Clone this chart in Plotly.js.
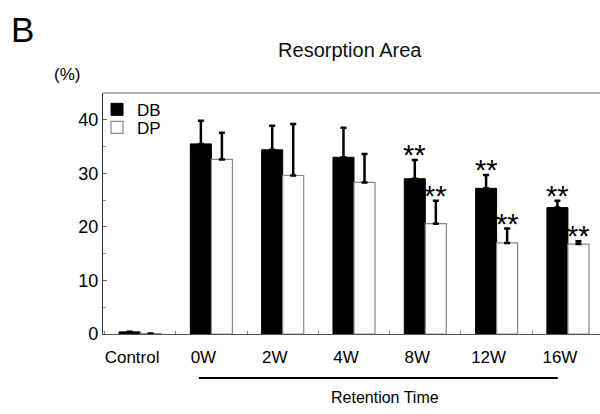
<!DOCTYPE html>
<html><head><meta charset="utf-8">
<script src="https://cdn.plot.ly/plotly-3.0.1.min.js"></script>
<style>html,body{margin:0;padding:0;background:#fff}#chart{width:600px;height:414px}</style>
</head><body><div id="chart"></div>
<script>
var categories = ["Control","0W","2W","4W","8W","12W","16W"];
var dbValues = [0.4, 35.5, 34.4, 33.0, 29.0, 27.2, 23.6];
var dbErr = [0, 4.3, 4.5, 5.5, 3.5, 2.5, 1.3];
var dpValues = [0.1, 32.6, 29.6, 28.3, 20.6, 17.0, 16.8];
var dpErr = [0, 5.0, 9.6, 5.3, 4.3, 2.7, 0.5];
var dbSig = ["", "", "", "", "**", "**", "**"];
var dpSig = ["", "", "", "", "**", "**", "**"];

var F = "Arial, 'Liberation Sans', Helvetica, sans-serif";
var traces = [
  {type:"bar", name:"DB", legend:"legend", x:categories, y:dbValues,
   marker:{color:"#000", line:{color:"#000", width:1}},
   error_y:{type:"data", array:dbErr, arrayminus:dbErr.map(function(){return 0;}), symmetric:false, color:"#000", thickness:2.5, width:3}},
  {type:"bar", name:"DP", legend:"legend2", x:categories, y:dpValues,
   marker:{color:"#fff", line:{color:"#888", width:1.2}},
   error_y:{type:"data", array:dpErr, arrayminus:dpErr.map(function(){return 0;}), symmetric:false, color:"#000", thickness:2.5, width:3}}
];

var annotations = [];
categories.forEach(function(c,i){
  if (dbSig[i]) annotations.push({x:c, y:dbValues[i]+dbErr[i], xref:"x", yref:"y", text:dbSig[i], showarrow:false, xshift:-10.5, yanchor:"bottom", yshift:-13, font:{family:F, size:29, color:"#000"}});
  if (dpSig[i]) annotations.push({x:c, y:dpValues[i]+dpErr[i], xref:"x", yref:"y", text:dpSig[i], showarrow:false, xshift:10.5, yanchor:"bottom", yshift:-13, font:{family:F, size:29, color:"#000"}});
});
annotations.push({xref:"paper", yref:"paper", x:-0.19, y:1.265, xanchor:"left", yanchor:"middle", text:"B", showarrow:false, font:{family:F, size:35, color:"#000"}});
annotations.push({xref:"paper", yref:"paper", x:-0.072, y:1.075, xanchor:"center", yanchor:"middle", text:"(%)", showarrow:false, font:{family:F, size:17, color:"#000"}});
annotations.push({xref:"paper", yref:"paper", x:0.568, y:-0.265, xanchor:"center", yanchor:"middle", text:"Retention Time", showarrow:false, font:{family:F, size:16, color:"#000"}});

var legFont = {family:F, size:17, color:"#000"};
var layout = {
  width:600, height:414,
  margin:{l:103, r:0, t:93, b:80},
  paper_bgcolor:"#fff", plot_bgcolor:"#fff",
  font:{family:F, color:"#000"},
  title:{text:"Resorption Area", x:0.583, xanchor:"center", y:0.88, yanchor:"middle", font:{family:F, size:20, color:"#111"}},
  barmode:"group", bargap:0.41, bargroupgap:0,
  showlegend:true,
  legend:{x:-0.012, y:1.005, xanchor:"left", yanchor:"top", bgcolor:"rgba(0,0,0,0)", font:legFont, itemwidth:30},
  legend2:{x:-0.012, y:0.93, xanchor:"left", yanchor:"top", bgcolor:"rgba(0,0,0,0)", font:legFont, itemwidth:30},
  xaxis:{type:"category", range:[-0.52, 6.45], showgrid:false, zeroline:false, showline:true, linecolor:"#555", linewidth:1.2,
         ticks:"inside", tickson:"boundaries", ticklen:3, tickcolor:"#888",
         ticklabelshift:-8, ticklabelstandoff:7,
         tickfont:{family:F, size:17, color:"#000"}},
  yaxis:{range:[0, 45], showgrid:false, zeroline:false, showline:true, linecolor:"#333", linewidth:1.2,
         tickvals:[0,10,20,30,40], ticks:"inside", ticklen:4, tickcolor:"#666",
         minor:{tickvals:[5,15,25,35], ticks:"inside", ticklen:3, tickcolor:"#999"},
         tickfont:{family:F, size:18, color:"#000"}},
  annotations:annotations,
  shapes:[
    {type:"line", xref:"paper", yref:"paper", x0:0.193, x1:0.915, y0:-0.183, y1:-0.183, line:{color:"#000", width:2}},
    {type:"line", xref:"paper", yref:"paper", x0:0, x1:1, y0:1, y1:1, line:{color:"#999", width:1.5}}
  ]
};
Plotly.newPlot("chart", traces, layout, {displayModeBar:false, staticPlot:true});
</script></body></html>
